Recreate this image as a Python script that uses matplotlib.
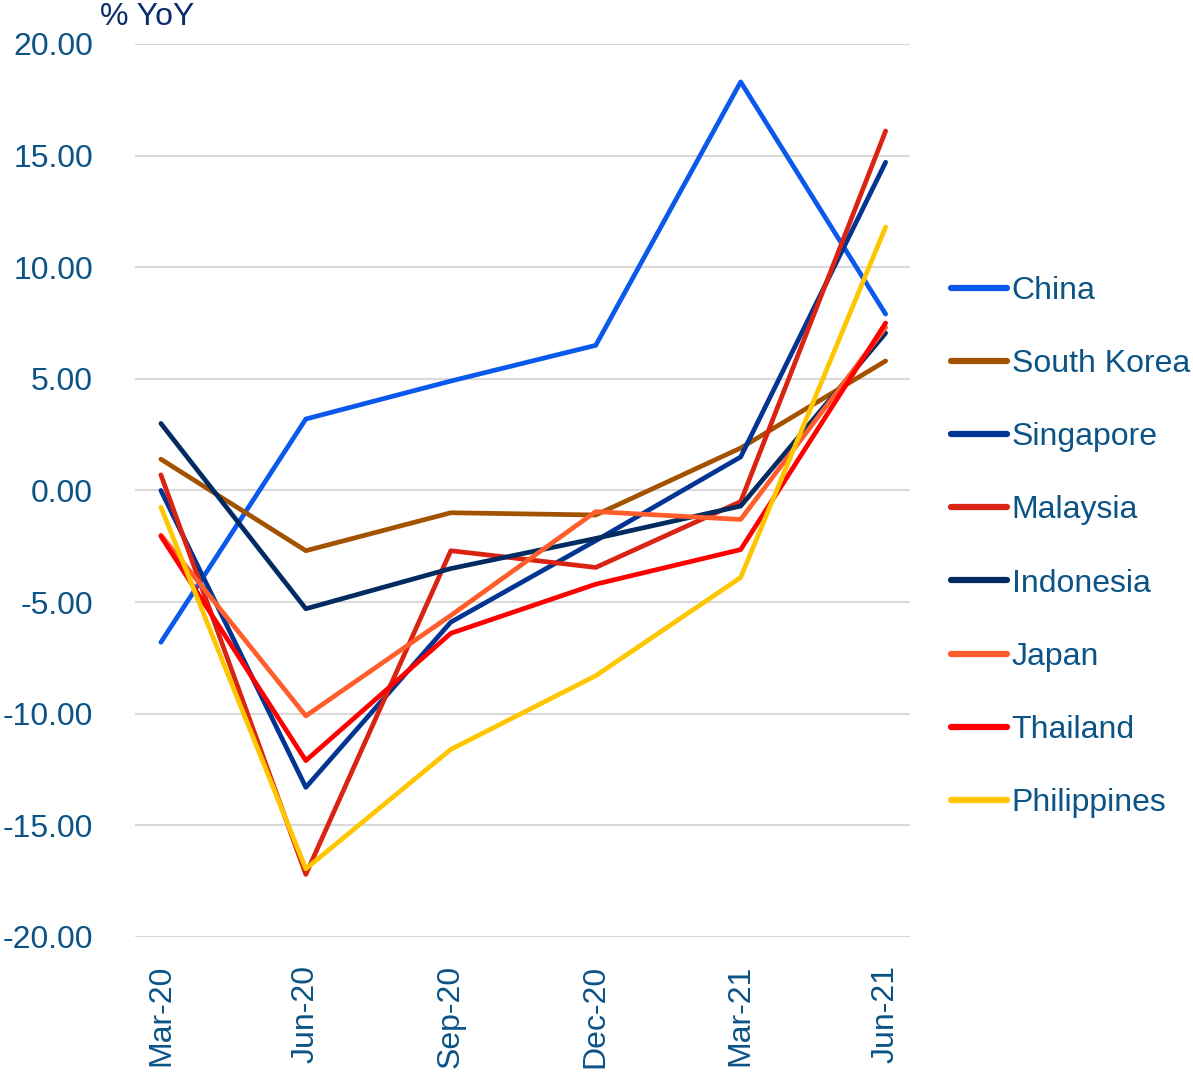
import matplotlib.pyplot as plt

plt.rcParams['font.family'] = ['Liberation Sans', 'DejaVu Sans']

# quarters on the x axis
quarters = ['Mar-20', 'Jun-20', 'Sep-20', 'Dec-20', 'Mar-21', 'Jun-21']

# % YoY
china = [-6.8, 3.2, 4.9, 6.5, 18.3, 7.9]
south_korea = [1.4, -2.7, -1.0, -1.1, 1.9, 5.8]
singapore = [0.0, -13.3, -5.9, -2.25, 1.5, 14.7]
malaysia = [0.7, -17.2, -2.7, -3.45, -0.5, 16.1]
indonesia = [3.0, -5.3, -3.5, -2.15, -0.7, 7.05]
japan = [-2.0, -10.1, -5.6, -0.95, -1.3, 7.3]
thailand = [-2.05, -12.1, -6.4, -4.2, -2.65, 7.5]
philippines = [-0.75, -16.95, -11.6, -8.3, -3.9, 11.8]

series = [
    ('China', china, '#0A58EC'),
    ('South Korea', south_korea, '#A35200'),
    ('Singapore', singapore, '#013493'),
    ('Malaysia', malaysia, '#DA2313'),
    ('Indonesia', indonesia, '#022B61'),
    ('Japan', japan, '#FF5D2B'),
    ('Thailand', thailand, '#FF0000'),
    ('Philippines', philippines, '#FFC600'),
]

text_col = '#0C5386'

fig = plt.figure(figsize=(11.93, 10.72), dpi=100)
ax = fig.add_axes([0.113, 0.126, 0.650, 0.833])

x = list(range(len(quarters)))
for name, vals, col in series:
    ax.plot(x, vals, color=col, lw=3.4, label=name, solid_capstyle='round')

ax.set_ylim(-20, 20)
ax.set_xlim(-0.18, 5.17)
ax.set_yticks(range(-20, 21, 5))
ax.set_yticklabels(['%.2f' % v for v in range(-20, 21, 5)])
ax.set_xticks(x)
ax.set_xticklabels(quarters, rotation=90)
ax.tick_params(axis='y', length=0, pad=30, labelsize=23, labelcolor=text_col)
ax.tick_params(axis='x', length=0, pad=20, labelsize=23, labelcolor=text_col)
ax.grid(axis='y', color='#D9D9D9', lw=1.5)
ax.set_axisbelow(True)
for s in ax.spines.values():
    s.set_visible(False)

fig.text(100 / 1193, 1 - 2 / 1072, '% YoY', fontsize=23, color='#0B2C6B',
         ha='left', va='top')

leg = fig.legend(loc='center left', bbox_to_anchor=(951 / 1193, 1 - 547 / 1072),
                 frameon=False, fontsize=23, handlelength=1.75, handletextpad=0.15,
                 labelspacing=1.35, borderpad=0, borderaxespad=0)
for t in leg.get_texts():
    t.set_color(text_col)
for h in leg.get_lines():
    h.set_linewidth(4.5)

fig.savefig('out.png', dpi=100)
